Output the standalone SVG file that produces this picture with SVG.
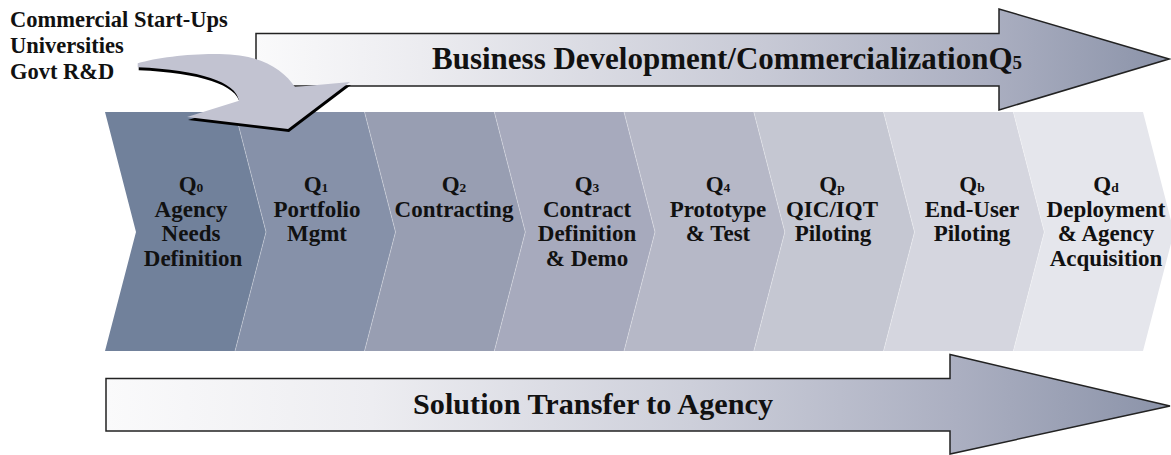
<svg xmlns="http://www.w3.org/2000/svg" width="1171" height="455" viewBox="0 0 1171 455">
  <defs>
    <linearGradient id="bandTop" gradientUnits="userSpaceOnUse" x1="256" y1="0" x2="1170" y2="0">
      <stop offset="0" stop-color="#fafafb"/>
      <stop offset="0.18" stop-color="#ececf0"/>
      <stop offset="0.55" stop-color="#c8cad6"/>
      <stop offset="0.8" stop-color="#abafc1"/>
      <stop offset="1" stop-color="#8b93a9"/>
    </linearGradient>
    <linearGradient id="bandBottom" gradientUnits="userSpaceOnUse" x1="106" y1="0" x2="1170" y2="0">
      <stop offset="0" stop-color="#fafafb"/>
      <stop offset="0.25" stop-color="#ededf1"/>
      <stop offset="0.55" stop-color="#cdcfda"/>
      <stop offset="0.8" stop-color="#abafc1"/>
      <stop offset="1" stop-color="#8b93a9"/>
    </linearGradient>
    <path id="bendArrow" d="M137.7,63.3 C165,55 225,50 252,58 C272,63 287,75 295,87 L350,82 L288,129 L187,117 L239,100.7 C236,82 200,70 137.7,67.3 Z"/>
  </defs>
  <style>
    .lbl { font-family: "Liberation Serif", "Times New Roman", serif; font-weight: bold; fill: #111; }
    .stage { font-size: 23px; text-anchor: middle; }
    .sub { font-size: 13.5px; }
    .band { stroke: #222; stroke-width: 1.5; stroke-linejoin: miter; }
    .seam { fill: none; stroke: #ffffff; stroke-opacity: 0.35; stroke-width: 0.9; }
  </style>

  <!-- source list -->
  <g id="sources" class="lbl" font-size="22.5">
    <text x="10" y="27">Commercial Start-Ups</text>
    <text x="10" y="53">Universities</text>
    <text x="10" y="79">Govt R&amp;D</text>
  </g>

  <!-- upper band arrow -->
  <g id="connectors">
    <g id="business-development">
      <path class="band" fill="url(#bandTop)" d="M256,33.5 L999,33.5 L999,9 L1169,59 L999,110 L999,86 L256,86 Z"/>
      <text class="lbl" x="432" y="69" font-size="31" textLength="590" lengthAdjust="spacingAndGlyphs">Business Development/CommercializationQ<tspan font-size="19">5</tspan></text>
    </g>
  </g>

  <!-- stage chevrons -->
  <g id="stages">
    <g id="stage-q0">
      <polygon fill="#71819b" points="105,112 235,112 266,232 235,351 105,351 136,232"/>
      <text class="lbl stage" x="191" y="192">Q<tspan class="sub">0</tspan></text>
      <text class="lbl stage" x="191" y="216.5">Agency</text>
      <text class="lbl stage" x="191" y="241">Needs</text>
      <text class="lbl stage" x="193" y="265.5">Definition</text>
    </g>
    <g id="stage-q1">
      <polygon fill="#8691a9" points="235,112 364.5,112 395.5,232 364.5,351 235,351 266,232"/>
      <polyline class="seam" points="235,112 266,232 235,351"/>
      <text class="lbl stage" x="316" y="192">Q<tspan class="sub">1</tspan></text>
      <text class="lbl stage" x="317" y="216.5">Portfolio</text>
      <text class="lbl stage" x="317" y="241">Mgmt</text>
    </g>
    <g id="stage-q2">
      <polygon fill="#989eb2" points="364.5,112 494.3,112 525.3,232 494.3,351 364.5,351 395.5,232"/>
      <polyline class="seam" points="364.5,112 395.5,232 364.5,351"/>
      <text class="lbl stage" x="454" y="192">Q<tspan class="sub">2</tspan></text>
      <text class="lbl stage" x="454" y="216.5">Contracting</text>
    </g>
    <g id="stage-q3">
      <polygon fill="#a7aabd" points="494.3,112 624,112 655,232 624,351 494.3,351 525.3,232"/>
      <polyline class="seam" points="494.3,112 525.3,232 494.3,351"/>
      <text class="lbl stage" x="587" y="192">Q<tspan class="sub">3</tspan></text>
      <text class="lbl stage" x="587" y="216.5">Contract</text>
      <text class="lbl stage" x="587" y="241">Definition</text>
      <text class="lbl stage" x="587" y="265.5">&amp; Demo</text>
    </g>
    <g id="stage-q4">
      <polygon fill="#b6b8c7" points="624,112 753.8,112 784.8,232 753.8,351 624,351 655,232"/>
      <polyline class="seam" points="624,112 655,232 624,351"/>
      <text class="lbl stage" x="718" y="192">Q<tspan class="sub">4</tspan></text>
      <text class="lbl stage" x="718" y="216.5">Prototype</text>
      <text class="lbl stage" x="718" y="241">&amp; Test</text>
    </g>
    <g id="stage-qp">
      <polygon fill="#c5c7d2" points="753.8,112 883.5,112 914.5,232 883.5,351 753.8,351 784.8,232"/>
      <polyline class="seam" points="753.8,112 784.8,232 753.8,351"/>
      <text class="lbl stage" x="832" y="192">Q<tspan class="sub">p</tspan></text>
      <text class="lbl stage" x="832" y="216.5">QIC/IQT</text>
      <text class="lbl stage" x="833" y="241">Piloting</text>
    </g>
    <g id="stage-qb">
      <polygon fill="#d5d6df" points="883.5,112 1013.3,112 1044.3,232 1013.3,351 883.5,351 914.5,232"/>
      <polyline class="seam" points="883.5,112 914.5,232 883.5,351"/>
      <text class="lbl stage" x="972" y="192">Q<tspan class="sub">b</tspan></text>
      <text class="lbl stage" x="972" y="216.5">End-User</text>
      <text class="lbl stage" x="972" y="241">Piloting</text>
    </g>
    <g id="stage-qd">
      <polygon fill="#e5e6ec" points="1013.3,112 1143,112 1174,232 1143,351 1013.3,351 1044.3,232"/>
      <polyline class="seam" points="1013.3,112 1044.3,232 1013.3,351"/>
      <text class="lbl stage" x="1106" y="192">Q<tspan class="sub">d</tspan></text>
      <text class="lbl stage" x="1106" y="216.5">Deployment</text>
      <text class="lbl stage" x="1106" y="241">&amp; Agency</text>
      <text class="lbl stage" x="1106" y="265.5">Acquisition</text>
    </g>
  </g>

  <g id="connectors-lower">
    <!-- lower band arrow -->
    <g id="solution-transfer">
      <path class="band" fill="url(#bandBottom)" d="M106,378.5 L950,378.5 L950,354.5 L1170,406 L950,454 L950,431 L106,431 Z"/>
      <text class="lbl" x="413" y="414" font-size="30" textLength="360" lengthAdjust="spacingAndGlyphs">Solution Transfer to Agency</text>
    </g>
    <!-- bent feeder arrow with hard drop shadow -->
    <g id="feeder-arrow">
      <use href="#bendArrow" fill="#000" transform="translate(1,3)"/>
      <use href="#bendArrow" fill="#c2c3d1"/>
    </g>
  </g>
</svg>
